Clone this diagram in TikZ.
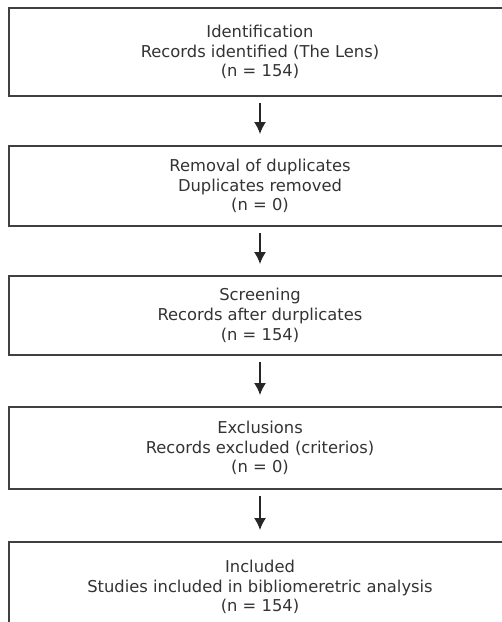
\documentclass[tikz,border=0pt]{standalone}
\usepackage{fontspec}
\setmainfont{DejaVu Sans}
\usetikzlibrary{arrows.meta}

\begin{document}
\begin{tikzpicture}[x=0.02cm,y=-0.02cm,
    stagebox/.style={draw=black!75, line width=1.1pt, minimum width=10.04cm,
        align=center, text=black!80, font=\fontsize{9.3}{11.2}\selectfont, inner sep=0pt},
    flow/.style={draw=black!85, line width=0.9pt, -{Latex[length=2.4mm,width=2.4mm]},
        shorten <=0.12cm, shorten >=0.22cm}]
    \useasboundingbox (0,0) rectangle (501,622);
    %\draw[step=50,black,very thin] (0,0) grid (500,620);
    \node[stagebox, minimum height=1.76cm] (ident) at (260,52)
        {Identification\\Records identified (The Lens)\\(n = 154)};
    \node[stagebox, minimum height=1.6cm] (dupl) at (260,186)
        {Removal of duplicates\\ Duplicates removed\\(n = 0)};
    \node[stagebox, minimum height=1.58cm] (screen) at (260,315.5)
        {Screening\\Records after durplicates\\(n = 154)};
    \node[stagebox, minimum height=1.64cm] (excl) at (260,448)
        {Exclusions\\Records excluded (criterios)\\(n = 0)};
    \node[stagebox, minimum height=1.8cm] (incl) at (260,587)
        {Included\\Studies included in bibliomeretric analysis\\(n = 154)};
    \draw[flow] (ident) -- (dupl);
    \draw[flow] (dupl) -- (screen);
    \draw[flow] (screen) -- (excl);
    \draw[flow] (excl) -- (incl);
\end{tikzpicture}
\end{document}
